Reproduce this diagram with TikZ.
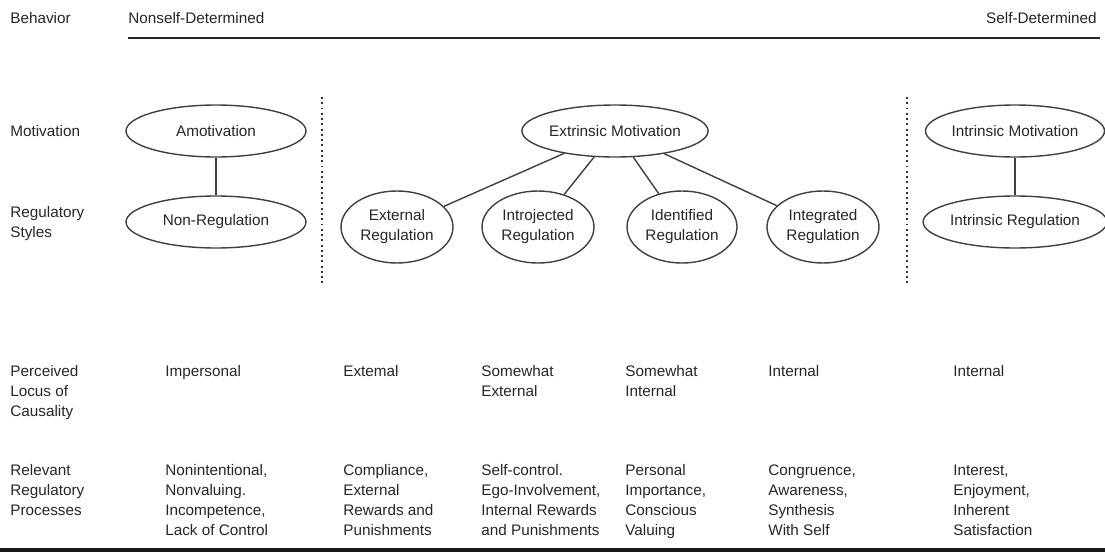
\documentclass[tikz,border=0pt]{standalone}
\usepackage{fontspec}
\setmainfont{Liberation Sans}
\usetikzlibrary{shapes.geometric}
\begin{document}
\begin{tikzpicture}[x=0.02cm,y=-0.02cm,
    every node/.style={font=\fontsize{8.7}{11.4}\selectfont, text=black!85},
    oval/.style={ellipse, draw=black!75, line width=0.8pt, inner sep=0pt, align=center},
    wide/.style={oval, minimum width=3.6cm, minimum height=1.04cm},
    small/.style={oval, minimum width=2.24cm, minimum height=1.44cm},
    txt/.style={anchor=north west, inner sep=0pt, align=left},
    link/.style={draw=black!75, line width=0.8pt},
    divider/.style={draw=black!80, line width=1.2pt, dash pattern=on 1.1pt off 1.9pt}]
  \useasboundingbox (0,0) rectangle (1105,555);

  % Behavior row
  \node[anchor=west, inner sep=0pt] (beh) at (10,18) {Behavior};
  \node[anchor=west, inner sep=0pt] (nonself) at (128,18) {Nonself-Determined};
  \node[anchor=east, inner sep=0pt] (self) at (1097,18) {Self-Determined};
  \coordinate (topl) at (128,38);
  \coordinate (topr) at (1100,38);
  \draw[black!85, line width=1.7pt] (topl) -- (topr);

  % Row labels
  \node[anchor=west, inner sep=0pt] (mot) at (10,131) {Motivation};
  \node[txt] (regsty) at (10,206) {Regulatory\\Styles};
  \node[txt] (perc) at (10,365) {Perceived\\Locus of\\Causality};
  \node[txt] (relev) at (10,464) {Relevant\\Regulatory\\Processes};

  % Motivation ellipses
  \node[wide] (amot) at (216,131) {Amotivation};
  \node[wide, minimum width=3.68cm] (extr) at (615,131) {Extrinsic Motivation};
  \node[wide, minimum width=3.4cm] (intr) at (1015,131) {Intrinsic Motivation};

  % Regulatory styles
  \node[wide] (nonreg) at (216,222) {Non-Regulation};
  \node[small] (ext) at (397,227) {External\\Regulation};
  \node[small] (intro) at (538,227) {Introjected\\Regulation};
  \node[small, minimum width=2.2cm] (ident) at (682,227) {Identified\\Regulation};
  \node[small] (integ) at (823,227) {Integrated\\Regulation};
  \node[wide, minimum width=3.52cm] (intreg) at (1015,222) {Intrinsic Regulation};

  % Connectors
  \draw[link] (amot) -- (nonreg);
  \draw[link] (intr) -- (intreg);
  \draw[link] (extr) -- (ext);
  \draw[link] (extr) -- (intro);
  \draw[link] (extr) -- (ident);
  \draw[link] (extr) -- (integ);

  % Dotted dividers
  \coordinate (d1a) at (322,97);
  \coordinate (d1b) at (322,283);
  \coordinate (d2a) at (907,97);
  \coordinate (d2b) at (907,283);
  \draw[divider] (d1a) -- (d1b);
  \draw[divider] (d2a) -- (d2b);

  % Locus of causality
  \node[txt] (loc1) at (165,365) {Impersonal};
  \node[txt] (loc2) at (343,365) {Extemal};
  \node[txt] (loc3) at (481,365) {Somewhat\\External};
  \node[txt] (loc4) at (625,365) {Somewhat\\Internal};
  \node[txt] (loc5) at (768,365) {Internal};
  \node[txt] (loc6) at (953,365) {Internal};

  % Regulatory processes
  \node[txt] (proc1) at (165,464) {Nonintentional,\\Nonvaluing.\\Incompetence,\\Lack of Control};
  \node[txt] (proc2) at (343,464) {Compliance,\\External\\Rewards and\\Punishments};
  \node[txt] (proc3) at (481,464) {Self-control.\\Ego-Involvement,\\Internal Rewards\\and Punishments};
  \node[txt] (proc4) at (625,464) {Personal\\Importance,\\Conscious\\Valuing};
  \node[txt] (proc5) at (768,464) {Congruence,\\Awareness,\\Synthesis\\With Self};
  \node[txt] (proc6) at (953,465) {Interest,\\Enjoyment,\\Inherent\\Satisfaction};

  % Bottom rule
  \coordinate (botl) at (0,550);
  \coordinate (botr) at (1105,550);
  \draw[black!90, line width=2.3pt] (botl) -- (botr);
\end{tikzpicture}
\end{document}
